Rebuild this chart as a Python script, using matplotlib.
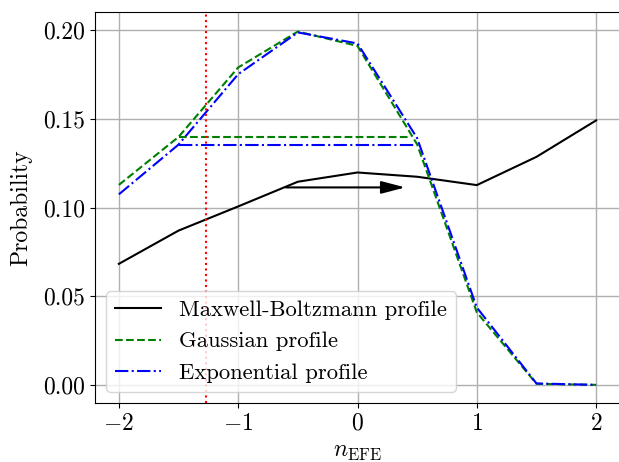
import matplotlib
matplotlib.use("Agg")
import matplotlib.pyplot as plt

# ---------- data ----------
n_efe = [-2.0, -1.5, -1.0, -0.5, 0.0, 0.5, 1.0, 1.5, 2.0]
mb_prob = [0.0683, 0.0870, 0.1006, 0.1145, 0.1197, 0.1173, 0.1126, 0.1285, 0.1490]
gauss_prob = [0.1127, 0.1397, 0.1788, 0.1990, 0.1909, 0.1355, 0.0410, 0.0008, 0.0002]
expo_prob = [0.1074, 0.1354, 0.1750, 0.1985, 0.1923, 0.1390, 0.0437, 0.0010, 0.0002]

# width markers (horizontal segments)
gauss_width_x = [-1.5, 0.45]
gauss_width_y = [0.1397, 0.1397]
expo_width_x = [-1.5, 0.49]
expo_width_y = [0.1354, 0.1354]

n_cut = -1.267          # red dotted line
arrow_from = (-0.60, 0.1113)
arrow_to = (0.40, 0.1113)

# ---------- style ----------
plt.rcParams['font.family'] = 'serif'
plt.rcParams['font.serif'] = ['cmr10']
plt.rcParams['mathtext.fontset'] = 'cm'
plt.rcParams['axes.formatter.use_mathtext'] = True
plt.rcParams['font.size'] = 17
plt.rcParams['axes.unicode_minus'] = True

fig = plt.figure(figsize=(6.19, 4.62), dpi=100)
ax = fig.add_axes([95 / 619, (462 - 403) / 462, (620 - 95) / 619, (403 - 12) / 462])

ax.plot(n_efe, mb_prob, 'k-', label='Maxwell-Boltzmann profile')
ax.plot(n_efe, gauss_prob, 'g--', label='Gaussian profile')
ax.plot(n_efe, expo_prob, 'b-.', label='Exponential profile')
ax.plot(gauss_width_x, gauss_width_y, 'g--')
ax.plot(expo_width_x, expo_width_y, 'b-.')

ax.axvline(n_cut, color='red', linestyle=':', linewidth=1.5)
ax.annotate('', xy=arrow_to, xytext=arrow_from,
            arrowprops=dict(arrowstyle='-|>,head_length=1.45,head_width=0.38',
                            mutation_scale=10, color='k', lw=1.5,
                            shrinkA=0, shrinkB=0))

ax.set_xlim(-2.2, 2.2)
ax.set_ylim(-0.01, 0.21)
ax.set_xticks([-2, -1, 0, 1, 2])
ax.set_yticks([0.0, 0.05, 0.10, 0.15, 0.20])
ax.set_yticklabels(['0.00', '0.05', '0.10', '0.15', '0.20'])
ax.grid(True, linewidth=1.0)
ax.set_axisbelow(True)

ax.set_xlabel(r'$n_{\rm EFE}$', labelpad=4)
ax.set_ylabel('Probability', labelpad=8)
ax.legend(loc='lower left', fontsize=16.3)

fig.savefig('out.png', dpi=100)
